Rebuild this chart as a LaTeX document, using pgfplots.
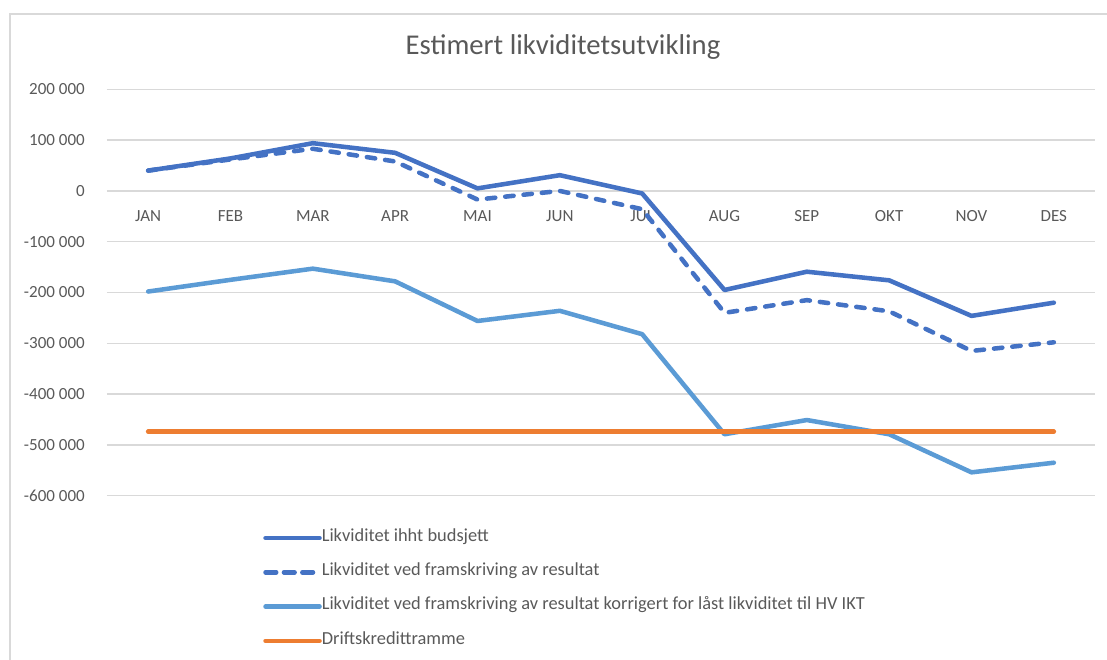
\documentclass[border=0pt]{standalone}
\usepackage{pgfplots}
\pgfplotsset{compat=1.18}
\usepackage{fontspec}
\setmainfont{Carlito}
\definecolor{txt}{HTML}{595959}
\definecolor{gridc}{HTML}{D9D9D9}
\definecolor{sA}{HTML}{4472C4}
\definecolor{sC}{HTML}{5B9BD5}
\definecolor{sD}{HTML}{ED7D31}
\begin{document}
\begin{tikzpicture}
\path[use as bounding box] (-80.25pt,-122.5pt) rectangle (750pt,371.8pt);
\draw[gridc, line width=1.5pt] (-72.75pt,-130pt) -- (-72.75pt,361.3pt) -- (760pt,361.3pt);
\begin{axis}[
  at={(0,0)}, anchor=south west,
  scale only axis, width=741pt, height=304.8pt,
  xmin=-0.5, xmax=11.5, ymin=-600000, ymax=200000,
  axis x line=middle, axis y line=left,
  axis line style={draw=none},
  major tick length=0pt,
  scaled y ticks=false,
  xtick={0,1,2,3,4,5,6,7,8,9,10,11},
  xticklabels={JAN,FEB,MAR,APR,MAI,JUN,JUL,AUG,SEP,OKT,NOV,DES},
  ytick={-600000,-500000,-400000,-300000,-200000,-100000,0,100000,200000},
  yticklabels={-600~000,-500~000,-400~000,-300~000,-200~000,-100~000,0,100~000,200~000},
  ymajorgrids, grid style={gridc, line width=1pt},
  xticklabel style={font=\fontsize{12.75}{14}\selectfont, text=txt, inner sep=0pt, anchor=north, yshift=-14.8pt},
  yticklabel style={font=\fontsize{12.75}{14}\selectfont, text=txt, inner sep=0pt, anchor=east, xshift=-16.5pt},
  legend style={at={(0.1579,-0.087)}, anchor=north west, draw=none, fill=none, inner sep=0pt,
    font=\fontsize{13.8}{16}\selectfont, text=txt, row sep=15.7pt, column sep=0pt,
    nodes={inner sep=0pt, text height=0.75em, text depth=0.25em}},
  legend cell align=left,
  legend image code/.code={\path (0pt,0pt) -- (40.5pt,0pt); \draw[#1] (1.7pt,0pt) -- (38.7pt,0pt);},
  every axis plot/.append style={line width=3.4pt, line cap=round, line join=round},
]
\addplot[sA] coordinates {(0,40000) (1,64000) (2,94000) (3,75000) (4,5000) (5,31000) (6,-5000) (7,-195000) (8,-159000) (9,-176000) (10,-246000) (11,-220000)};
\addlegendentry{Likviditet ihht budsjett}
\addplot[sA, dash pattern=on 6.3pt off 7.5pt] coordinates {(0,40000) (1,62000) (2,83000) (3,58000) (4,-17000) (5,0) (6,-36000) (7,-240000) (8,-215000) (9,-237000) (10,-315000) (11,-298000)};
\addlegendentry{Likviditet ved framskriving av resultat}
\addplot[sC] coordinates {(0,-198000) (1,-175000) (2,-153000) (3,-178000) (4,-256000) (5,-236000) (6,-282000) (7,-479000) (8,-451000) (9,-479000) (10,-554000) (11,-535000)};
\addlegendentry{Likviditet ved framskriving av resultat korrigert for låst likviditet til HV IKT}
\addplot[sD] coordinates {(0,-474000) (1,-474000) (2,-474000) (3,-474000) (4,-474000) (5,-474000) (6,-474000) (7,-474000) (8,-474000) (9,-474000) (10,-474000) (11,-474000)};
\addlegendentry{Driftskredittramme}
\end{axis}
\node[text=txt, font=\fontsize{21.5}{26}\selectfont] at (342pt,336.5pt) {Estimert likviditetsutvikling};
\end{tikzpicture}
\end{document}
